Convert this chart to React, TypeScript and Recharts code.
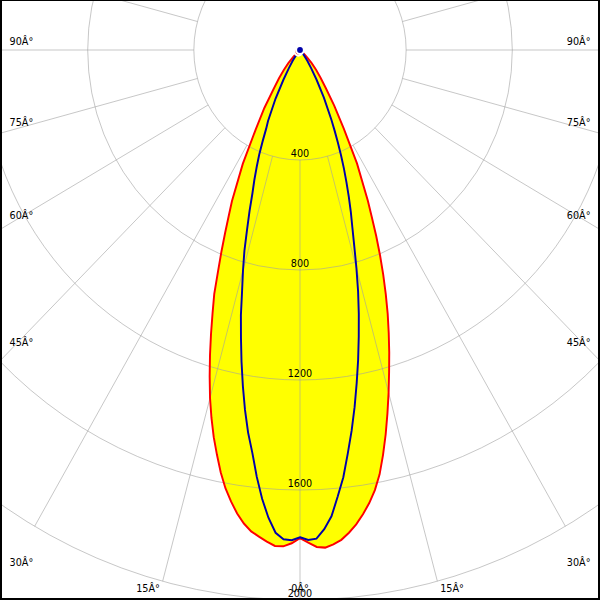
import React from 'react';
import { RadarChart, Radar, PolarGrid, PolarAngleAxis, PolarRadiusAxis } from 'recharts';

// Angle (degrees, measured round the full circle from the nadir) of every sample
const angles = [
  0, 1, 2, 3, 4, 5, 6, 7, 8, 9, 10, 11, 12, 13, 14, 15, 16, 17, 18, 19, 20, 21, 22, 23, 24, 25,
  27.5, 30, 32.5, 35, 37.5, 40, 42.5, 45, 47.5, 50,
  310, 312.5, 315, 317.5, 320, 322.5, 325, 327.5, 330, 332.5,
  335, 336, 337, 338, 339, 340, 341, 342, 343, 344, 345, 346, 347, 348, 349, 350, 351, 352, 353, 354, 355, 356, 357, 358, 359,
];
// C0-C180 plane (red outline, yellow fill), cd
const redValues = [
  1775, 1792, 1808, 1812, 1802, 1788, 1765, 1738, 1705, 1668, 1625, 1572, 1505, 1435, 1362, 1290, 1218, 1150, 1082, 1015, 945, 875, 805, 735, 665, 605,
  465, 330, 240, 170, 128, 95, 65, 40, 22, 8,
  8, 22, 40, 65, 95, 130, 175, 250, 335, 467,
  607, 660, 722, 790, 862, 945, 1012, 1085, 1160, 1235, 1310, 1379, 1445, 1505, 1565, 1618, 1662, 1702, 1735, 1760, 1776, 1792, 1806, 1806, 1794,
];
// C90-C270 plane (blue outline), cd
const blueValues = [
  1772, 1782, 1778, 1745, 1700, 1630, 1562, 1478, 1398, 1315, 1230, 1148, 1065, 985, 905, 822, 742, 675, 620, 565, 512, 462, 412, 365, 320, 280,
  195, 125, 78, 48, 28, 15, 8, 4, 1, 0,
  0, 1, 4, 8, 15, 28, 48, 78, 125, 200,
  285, 314, 360, 410, 455, 503, 550, 615, 682, 760, 830, 902, 990, 1070, 1155, 1240, 1325, 1405, 1475, 1560, 1638, 1705, 1758, 1780, 1783,
];
const radiusTicks = [400, 800, 1200, 1600, 2000];
const gridAngles = [0, 15, 30, 45, 60, 75, 90, 105, 120, 135, 150, 165, 180, 195, 210, 225, 240, 255, 270, 285, 300, 315, 330, 345];
const labelAngles = [0, 15, 30, 45, 60, 75, 90, 270, 285, 300, 315, 330, 345];

const data = angles.map((a, i) => ({ angle: a, red: redValues[i], blue: blueValues[i] }));

const W = 626;
const H = 600;
const CX = 313;
const CY = 50;
const R_IN = 110;
const R_OUT = 550;
const SX = 0.965;
const FONT = 'DejaVu Sans';
const EDGE = 301;
const BOTTOM = 592;

const AngleTick = (props: any) => {
  const a = Number(props?.payload?.value);
  if (!labelAngles.includes(a)) return <g />;
  const right = a > 0 && a <= 90;
  const g = a === 0 ? 0 : right ? a : 360 - a;
  const rad = (g * Math.PI) / 180;
  const ySide = g === 0 ? Infinity : CY + EDGE / Math.tan(rad);
  let x: number;
  let y: number;
  let anchor: 'start' | 'end' | 'middle';
  if (ySide < BOTTOM) {
    x = right ? CX + EDGE : CX - EDGE;
    y = ySide - 5;
    anchor = right ? 'end' : 'start';
  } else {
    x = CX + (right ? 1 : -1) * (BOTTOM - CY) * Math.tan(rad);
    y = BOTTOM;
    anchor = g === 0 ? 'middle' : right ? 'start' : 'end';
  }
  return (
    <text x={x} y={y} textAnchor={anchor} fontSize={10} fontFamily={FONT} fill="#000">
      {`${g}Â°`}
    </text>
  );
};

const RadiusTick = (props: any) => (
  <text x={props.x} y={props.y - 3} textAnchor="middle" fontSize={10} fontFamily={FONT} fill="#000">
    {props?.payload?.value}
  </text>
);

export default function App() {
  return (
    <div style={{ position: 'absolute', left: 0, top: 0, width: 600, height: 600, overflow: 'hidden', background: '#fff' }}>
      <div style={{ position: 'absolute', left: -13, top: 0, width: W, height: H, transform: `scaleX(${SX})`, transformOrigin: `${CX}px ${CY}px` }}>
        <RadarChart
          width={W}
          height={H}
          cx={CX}
          cy={CY}
          innerRadius={R_IN}
          outerRadius={R_OUT}
          startAngle={-90}
          endAngle={270}
          data={data}
          margin={{ top: 0, right: 0, bottom: 0, left: 0 }}
        >
          <Radar dataKey="red" stroke="none" fill="#ffff00" fillOpacity={1} dot={false} isAnimationActive={false} zIndex={-200} />
          <PolarGrid
            gridType="circle"
            stroke="#a0a0a0"
            strokeOpacity={0.6}
            polarAngles={gridAngles.map((a) => a - 90)}
          />
          <PolarAngleAxis
            dataKey="angle"
            type="number"
            domain={[0, 360]}
            ticks={gridAngles}
            tickCount={25}
            axisLine={false}
            tickLine={false}
            tick={(p: any) => <AngleTick {...p} />}
          />
          <PolarRadiusAxis
            type="number"
            angle={-90}
            domain={[radiusTicks[0], radiusTicks[radiusTicks.length - 1]]}
            allowDataOverflow
            tickCount={5}
            axisLine={false}
            tick={(p: any) => <RadiusTick {...p} />}
          />
          <Radar dataKey="red" stroke="#ff0000" strokeWidth={2} fill="none" fillOpacity={0} dot={false} isAnimationActive={false} />
          <Radar dataKey="blue" stroke="#0000aa" strokeWidth={2} fill="none" fillOpacity={0} dot={false} isAnimationActive={false} />
        </RadarChart>
      </div>
      <div style={{ position: 'absolute', left: 0, top: 0, width: 600, height: 600, boxSizing: 'border-box', borderStyle: 'solid', borderColor: '#000', borderWidth: '1px 2px 2px 2px', pointerEvents: 'none' }} />
    </div>
  );
}
